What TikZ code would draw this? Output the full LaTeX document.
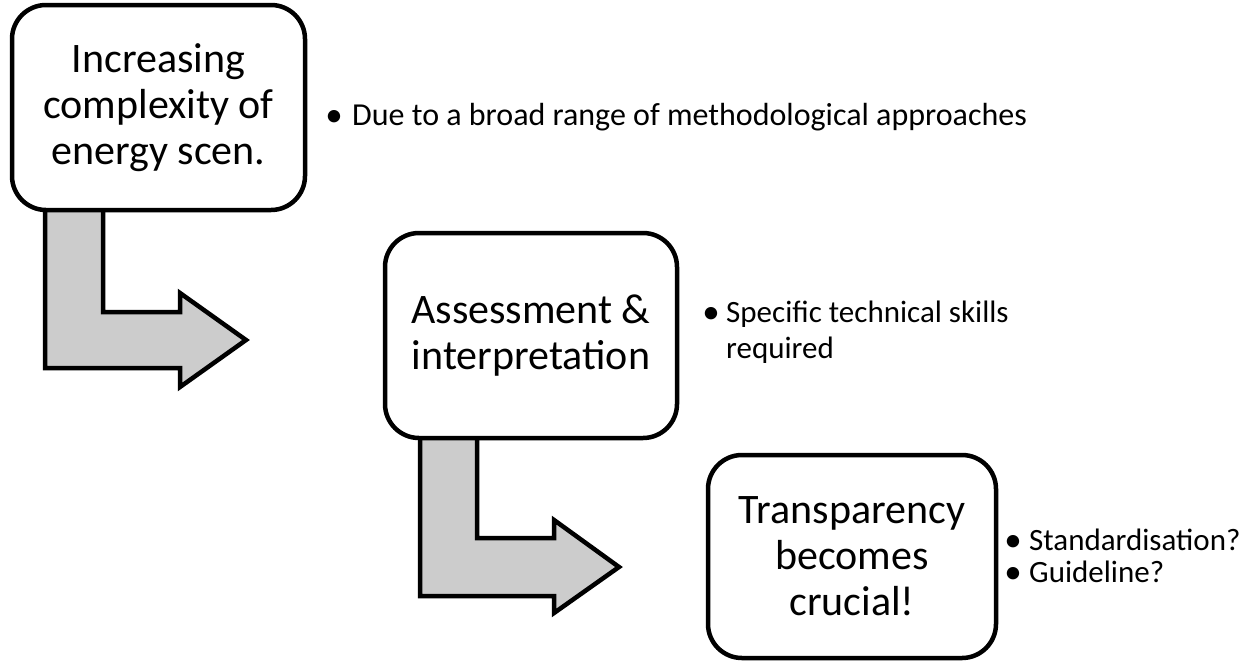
\documentclass[tikz,border=0pt]{standalone}
\usepackage{fontspec}
\setmainfont{Carlito}
\begin{document}
\begin{tikzpicture}[x=1pt,y=-1pt,
  box/.style={draw=black,line width=4.5pt,rounded corners=34pt,fill=white,align=center,inner sep=0pt,font=\fontsize{42}{46}\selectfont},
  bendarrow/.style={draw=black,line width=4.5pt,fill=black!20,line join=miter},
  bul/.style={anchor=base west,inner sep=0pt,font=\fontsize{31}{35}\selectfont},
  dot/.style={anchor=base,inner sep=0pt,font=\fontsize{35}{35}\selectfont,yshift=-1pt}]
\useasboundingbox (0,0) rectangle (1255,662);
% arrows
\draw[bendarrow] (45,205) -- (45,368) -- (180,368) -- (180,387) -- (246,340) -- (180,293) -- (180,312) -- (103,312) -- (103,205) -- cycle;
\draw[bendarrow] (420,433) -- (420,596) -- (554,596) -- (554,613) -- (619,567) -- (554,520) -- (554,538) -- (477,538) -- (477,433) -- cycle;
% boxes
\node[box,minimum width=293pt,minimum height=205pt] (b1) at (158.5,107.5) {Increasing\\complexity of\\energy scen.};
\node[box,minimum width=292pt,minimum height=205pt] (b2) at (531,335.5) {Assessment \&\\interpretation};
\node[box,minimum width=288pt,minimum height=203pt] (b3) at (852,556.5) {Transparency\\becomes\\crucial!};
% bullets
\node[dot] (d1) at (334,125) {•};
\node[bul,font=\fontsize{32}{36}\selectfont] (t1) at (352,125) {Due to a broad range of methodological approaches};
\node[dot] (d2) at (711,322) {•};
\node[bul] (t2) at (726,322) {Specific technical skills};
\node[bul] (t2b) at (726,358) {required};
\node[dot] (d3) at (1013,550) {•};
\node[bul] (t3) at (1029,550) {Standardisation?};
\node[dot] (d4) at (1013,582) {•};
\node[bul] (t4) at (1029,582) {Guideline?};
\end{tikzpicture}
\end{document}
